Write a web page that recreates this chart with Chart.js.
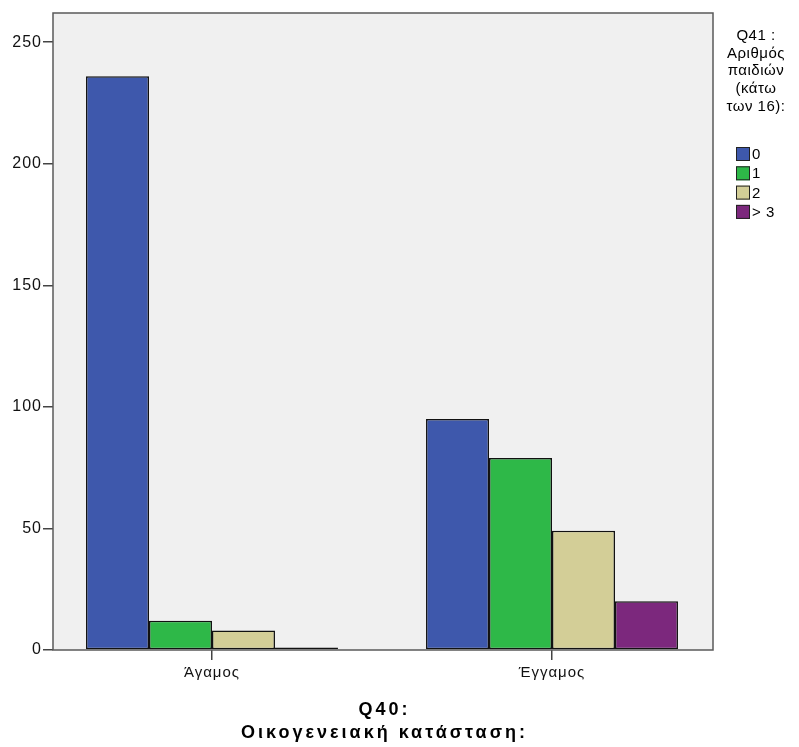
<!DOCTYPE html>
<html>
<head>
<meta charset="utf-8">
<script src="https://cdn.jsdelivr.net/npm/chart.js@4/dist/chart.umd.min.js"></script>
<style>
  html, body { margin: 0; padding: 0; background: #fff; }
  #wrap { width: 799px; height: 747px; }
</style>
</head>
<body>
<div id="wrap"><canvas id="chart" width="799" height="747"></canvas></div>
<script>
// categories (Q40) and series (Q41)
const categories = ['Άγαμος', 'Έγγαμος'];
const seriesLabels = ['0', '1', '2', '> 3'];
const seriesColors = ['#3e58ac', '#2eb848', '#d3ce97', '#7c287d'];

const childrenZero = [236, 95];
const childrenOne = [12, 79];
const childrenTwo = [8, 49];
const childrenThreePlus = [1, 20];

const yTicks = [0, 50, 100, 150, 200, 250];

const legendTitle = ['Q41 :', 'Αριθμός', 'παιδιών', '(κάτω', 'των 16):'];
const axisTitle = ['Q40:', 'Οικογενειακή κατάσταση:'];

const seriesValues = [childrenZero, childrenOne, childrenTwo, childrenThreePlus];

const FONT = "'Liberation Sans', Arial, sans-serif";

// grey plot background + frame, wider text like the original
const plotFrame = {
  id: 'plotFrame',
  beforeDraw(chart) {
    const { ctx, chartArea: a } = chart;
    ctx.letterSpacing = '1px';
    ctx.save();
    ctx.fillStyle = '#f0f0f0';
    ctx.fillRect(a.left, a.top, a.right - a.left, a.bottom - a.top);
    ctx.restore();
  },
  afterDraw(chart) {
    const { ctx, chartArea: a } = chart;
    ctx.save();
    ctx.strokeStyle = '#5a5a5a';
    ctx.lineWidth = 1.5;
    ctx.strokeRect(a.left, a.top, a.right - a.left, a.bottom - a.top);

    // axis title, letter spaced
    ctx.fillStyle = '#000';
    ctx.font = 'bold 18px ' + FONT;
    ctx.letterSpacing = '3px';
    ctx.textAlign = 'center';
    ctx.textBaseline = 'middle';
    const cx = (a.left + a.right) / 2 + 1.5;
    axisTitle.forEach((line, i) => ctx.fillText(line, cx, 710 + i * 23));
    ctx.restore();
  },
};

// legend on the right, drawn by hand (multi-line title)
const sideLegend = {
  id: 'sideLegend',
  afterDraw(chart) {
    const { ctx } = chart;
    ctx.save();
    ctx.fillStyle = '#000';
    ctx.font = '15px ' + FONT;
    ctx.letterSpacing = '0.5px';
    ctx.textAlign = 'center';
    ctx.textBaseline = 'middle';
    legendTitle.forEach((line, i) => {
      ctx.fillText(line, 756, 36 + i * 17.6);
    });
    ctx.textAlign = 'left';
    ctx.font = '15px ' + FONT;
    chart.data.datasets.forEach((ds, i) => {
      const y = 154 + i * 19.3;
      ctx.fillStyle = ds.backgroundColor;
      ctx.fillRect(736, y - 7, 14, 14);
      ctx.strokeStyle = '#222';
      ctx.lineWidth = 1;
      ctx.strokeRect(736.5, y - 6.5, 13, 13);
      ctx.fillStyle = '#000';
      ctx.fillText(ds.label, 752, y + 1);
    });
    ctx.restore();
  },
};

new Chart(document.getElementById('chart'), {
  type: 'bar',
  data: {
    datasets: seriesLabels.map((label, i) => ({
      label,
      data: seriesValues[i].map((v, j) => ({ x: j, y: v })),
      backgroundColor: seriesColors[i],
      borderColor: '#111',
      borderWidth: 1.5,
      borderSkipped: false,
      categoryPercentage: 0.741,
      barPercentage: 1,
    })),
  },
  options: {
    responsive: false,
    animation: false,
    layout: { padding: { top: 13, right: 86, left: 0, bottom: 0 } },
    plugins: {
      legend: { display: false },
      tooltip: { enabled: false },
    },
    scales: {
      x: {
        type: 'linear',
        min: -0.4676,
        max: 1.4735,
        offset: false,
        grid: { offset: false, drawOnChartArea: false, tickLength: 10, color: '#444', lineWidth: 1.5 },
        border: { display: false },
        ticks: {
          stepSize: 1,
          includeBounds: false,
          color: '#111',
          font: { family: FONT, size: 15 },
          padding: 4,
          callback: (v) => categories[v] ?? '',
        },
        afterFit(scale) { scale.height = 97; },
      },
      y: {
        min: 0,
        max: 262,
        grid: { drawOnChartArea: false, tickLength: 10, color: '#444', lineWidth: 1.5 },
        border: { display: false },
        ticks: {
          stepSize: 50,
          includeBounds: false,
          color: '#111',
          font: { family: FONT, size: 16 },
          padding: 1,
          callback: (v) => (yTicks.includes(v) ? v : ''),
        },
        afterFit(scale) { scale.width = 53; },
      },
    },
  },
  plugins: [plotFrame, sideLegend],
});
</script>
</body>
</html>
